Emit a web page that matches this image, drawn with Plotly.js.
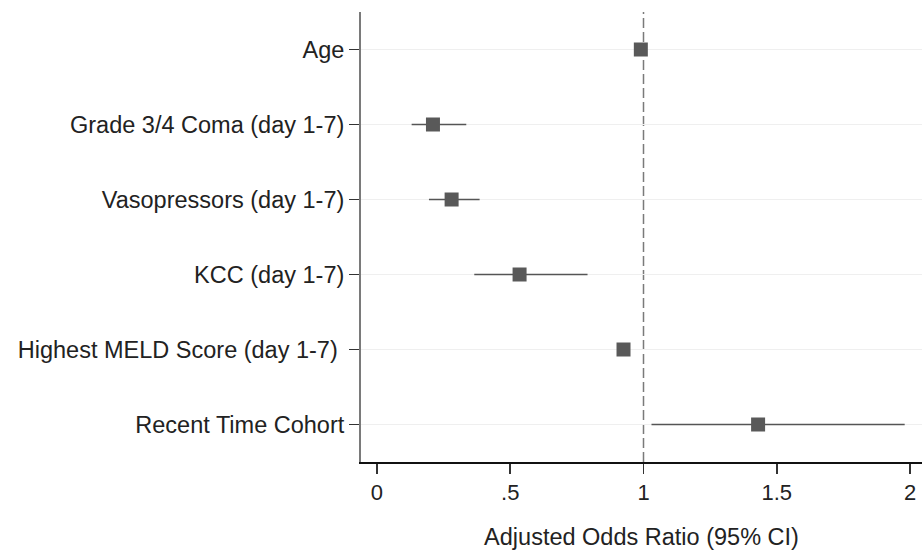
<!DOCTYPE html>
<html>
<head>
<meta charset="utf-8">
<script src="https://cdn.plot.ly/plotly-3.0.1.min.js"></script>
<style>html,body{margin:0;padding:0;background:#fff;}#chart{width:922px;height:552px;}</style>
</head>
<body>
<div id="chart"></div>
<script>
// Data
const categories = [
  "Age",
  "Grade 3/4 Coma (day 1-7)",
  "Vasopressors (day 1-7)",
  "KCC (day 1-7)",
  "Highest MELD Score (day 1-7)\u00a0",
  "Recent Time Cohort"
];
const oddsRatio = [0.99, 0.21, 0.28, 0.535, 0.925, 1.43];
const ciLower   = [0.98, 0.13, 0.195, 0.365, 0.915, 1.03];
const ciUpper   = [1.00, 0.335, 0.385, 0.79, 0.935, 1.98];
const xTickVals = [0, 0.5, 1, 1.5, 2];
const xTickText = ["0", ".5", "1", "1.5", "2"];
const xTitle = "Adjusted Odds Ratio (95% CI)";

const trace = {
  type: "scatter",
  mode: "markers",
  x: oddsRatio,
  y: categories,
  marker: {symbol: "square", size: 14, color: "#595959"},
  error_x: {
    type: "data",
    symmetric: false,
    array: oddsRatio.map((v, i) => ciUpper[i] - v),
    arrayminus: oddsRatio.map((v, i) => v - ciLower[i]),
    width: 0,
    thickness: 1.5,
    color: "#555555"
  },
  hoverinfo: "skip",
  showlegend: false,
  cliponaxis: false
};

const font = {family: "Liberation Sans, Arial, sans-serif", color: "#222222"};

const layout = {
  width: 922,
  height: 552,
  margin: {l: 361, r: 0, t: 12, b: 90, pad: 0},
  paper_bgcolor: "#ffffff",
  plot_bgcolor: "#ffffff",
  font: font,
  xaxis: {
    range: [-0.06, 2.045],
    tickvals: xTickVals,
    ticktext: xTickText,
    ticks: "outside",
    ticklen: 10,
    tickwidth: 1.5,
    tickcolor: "#333333",
    tickfont: {family: font.family, size: 22, color: "#222222"},
    showgrid: false,
    zeroline: false,
    showline: true,
    linecolor: "#111111",
    linewidth: 1.5,
    title: {text: xTitle, font: {family: font.family, size: 23.5, color: "#222222"}, standoff: 24},
    automargin: false
  },
  yaxis: {
    type: "category",
    categoryorder: "array",
    categoryarray: categories,
    range: [5.5, -0.5],
    ticks: "outside",
    ticklen: 10,
    tickwidth: 1.5,
    tickcolor: "#333333",
    tickfont: {family: font.family, size: 23.5, color: "#222222"},
    showgrid: true,
    gridcolor: "#efefef",
    gridwidth: 1.5,
    zeroline: false,
    showline: true,
    linecolor: "#7a7a7a",
    linewidth: 2,
    automargin: false
  },
  shapes: [{
    type: "line",
    xref: "x", yref: "paper",
    x0: 1, x1: 1, y0: 0, y1: 1,
    line: {color: "#7a7a7a", width: 1.5, dash: "10px,4px"},
    layer: "below"
  }]
};

Plotly.newPlot("chart", [trace], layout, {displayModeBar: false, staticPlot: true});
</script>
</body>
</html>
